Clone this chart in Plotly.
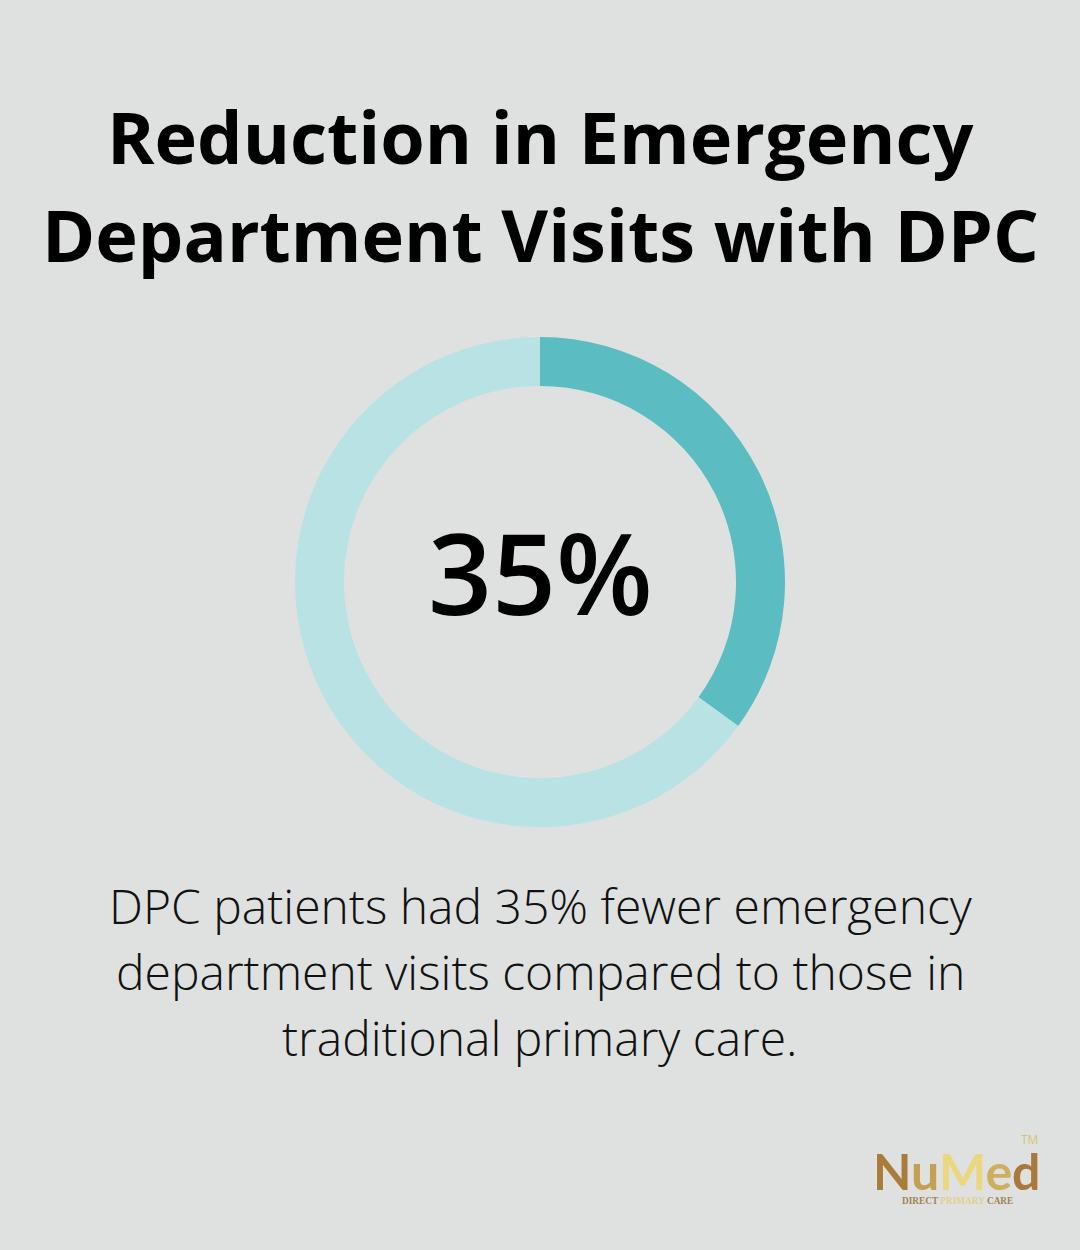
import plotly.graph_objs as go

labels = ['Fewer visits', 'Remaining']
values = [35, 65]
colors = ['#5BBCC1', '#B8E2E4']

title_lines = ['Reduction in Emergency', 'Department Visits with DPC']
center_text = '35%'
body_lines = ['DPC patients had 35% fewer emergency',
              'department visits compared to those in',
              'traditional primary care.']

# logo letters and the gold shade each one takes
logo_letters = ['N', 'u', 'M', 'e', 'd']
logo_colors = ['#A97C3A', '#C4A052', '#EBD77F', '#CFAE5E', '#A8793A']
tagline_words = ['DIRECT', 'PRIMARY', 'CARE']
tagline_colors = ['#A08350', '#E0D08C', '#A08350']

W = 1080
H = 1250


def txt(s, x, y, size, color='#000000', font='Open Sans', weight=400, **kw):
    return dict(text=s, x=x / W, y=1 - y / H, xref='paper', yref='paper',
                xanchor='center', yanchor='middle', showarrow=False,
                font=dict(family=font, size=size, color=color, weight=weight), **kw)


def colored(parts, shades, sep=''):
    return sep.join('<span style="color:%s">%s</span>' % (c, p) for p, c in zip(parts, shades))


trace = go.Pie(
    labels=labels,
    values=values,
    hole=0.8,
    sort=False,
    direction='clockwise',
    rotation=0,
    textinfo='none',
    showlegend=False,
    marker=dict(colors=colors, line=dict(width=0)),
    domain=dict(x=[295 / W, 785 / W], y=[1 - 827.5 / H, 1 - 336.5 / H]),
)

annotations = [
    txt(title_lines[0], 540, 136, 72, weight=700),
    txt(title_lines[1], 540, 234, 72, weight=700),
    txt(center_text, 540, 571, 112, weight=600),
    txt(body_lines[0], 541, 905, 48, color='#111111', weight=300),
    txt(body_lines[1], 540, 971, 48, color='#111111', weight=300),
    txt(body_lines[2], 540, 1037, 48, color='#111111', weight=300),
    txt(colored(logo_letters, logo_colors), 956, 1171, 50, font='Lato', weight=700, height=38),
    txt('TM', 1029, 1139, 12, color='#D9C277', height=12),
    txt(colored(tagline_words, tagline_colors, ' '), 957, 1201, 9.3,
        font='Liberation Serif', weight=700, height=10),
]

layout = go.Layout(
    width=W,
    height=H,
    margin=dict(l=0, r=0, t=0, b=0),
    paper_bgcolor='#DFE1E0',
    plot_bgcolor='#DFE1E0',
    annotations=annotations,
)

fig = go.Figure(data=[trace], layout=layout)
fig.write_html("out.html", config=dict(displayModeBar=False),
               post_script="document.body.style.margin='0';")
